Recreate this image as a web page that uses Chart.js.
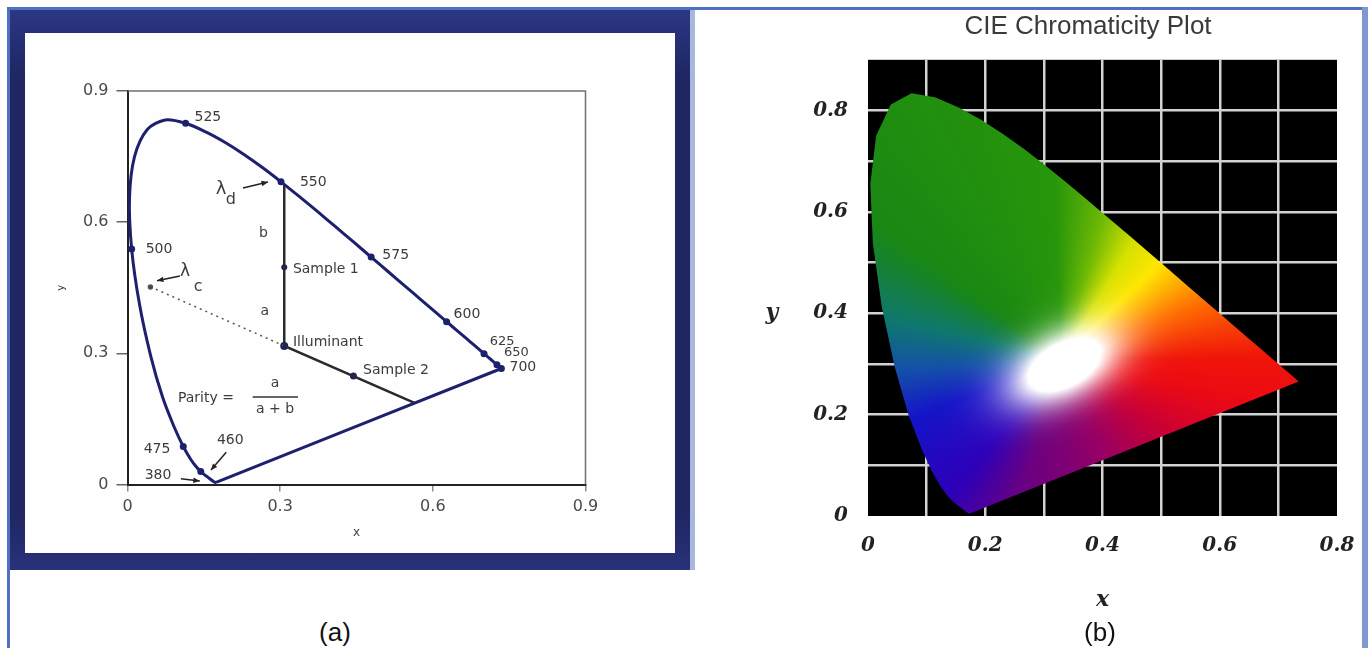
<!DOCTYPE html>
<html>
<head>
<meta charset="utf-8">
<script src="https://cdn.jsdelivr.net/npm/chart.js@4.4.0/dist/chart.umd.min.js"></script>
<style>
  body { margin: 0; width: 1368px; height: 648px; background: #fff; position: relative; overflow: hidden; font-family: "Liberation Sans", Arial, sans-serif; }
  .blk { position: absolute; }
  #edgeTop { left: 7px; top: 7px; width: 1361px; height: 3px; background: #4e71c4; }
  #edgeLeft { left: 7px; top: 7px; width: 3px; height: 641px; background: #4e71c4; }
  #edgeRight { left: 1362px; top: 7px; width: 6px; height: 641px; background: #7f99d0; }
  #navy { left: 10px; top: 10px; width: 680px; height: 560px; background: linear-gradient(#2b3783, #1f2662 12%, #1f2662 90%, #29327a); }
  #sep { left: 690px; top: 10px; width: 5px; height: 560px; background: #a7b8de; }
  #inner { left: 25px; top: 33px; width: 650px; height: 520px; background: #fefefe; }
  #chartA { position: absolute; left: 25px; top: 33px; }
  #chartB { position: absolute; left: 700px; top: 10px; }
  .cap { position: absolute; top: 617px; font-size: 26px; color: #111; width: 60px; text-align: center; }
</style>
</head>
<body>
<div class="blk" id="edgeTop"></div>
<div class="blk" id="edgeLeft"></div>
<div class="blk" id="edgeRight"></div>
<div class="blk" id="navy"></div>
<div class="blk" id="sep"></div>
<div class="blk" id="inner"></div>
<canvas id="chartA" width="650" height="520"></canvas>
<canvas id="chartB" width="662" height="638"></canvas>
<div class="cap" style="left:305px">(a)</div>
<div class="cap" style="left:1070px">(b)</div>
<script>
// CIE 1931 spectral locus, 5 nm steps
const wavelengths = [380,385,390,395,400,405,410,415,420,425,430,435,440,445,450,455,460,465,470,475,480,485,490,495,500,505,510,515,520,525,530,535,540,545,550,555,560,565,570,575,580,585,590,595,600,605,610,615,620,625,630,635,640,645,650,655,660,665,670,675,680,685,690,695,700];
const locusX = [0.1741,0.1740,0.1738,0.1736,0.1733,0.1730,0.1726,0.1721,0.1714,0.1703,0.1689,0.1669,0.1644,0.1611,0.1566,0.1510,0.1440,0.1355,0.1241,0.1096,0.0913,0.0687,0.0454,0.0235,0.0082,0.0039,0.0139,0.0389,0.0743,0.1142,0.1547,0.1929,0.2296,0.2658,0.3016,0.3373,0.3731,0.4087,0.4441,0.4788,0.5125,0.5448,0.5752,0.6029,0.6270,0.6482,0.6658,0.6801,0.6915,0.7006,0.7079,0.7140,0.7190,0.7230,0.7260,0.7283,0.7300,0.7311,0.7320,0.7327,0.7334,0.7340,0.7344,0.7346,0.7347];
const locusY = [0.0050,0.0050,0.0049,0.0049,0.0048,0.0048,0.0048,0.0048,0.0051,0.0058,0.0069,0.0086,0.0109,0.0138,0.0177,0.0227,0.0297,0.0399,0.0578,0.0868,0.1327,0.2007,0.2950,0.4127,0.5384,0.6548,0.7502,0.8120,0.8338,0.8262,0.8059,0.7816,0.7543,0.7243,0.6923,0.6589,0.6245,0.5896,0.5547,0.5202,0.4866,0.4544,0.4242,0.3965,0.3725,0.3514,0.3340,0.3197,0.3083,0.2993,0.2920,0.2859,0.2809,0.2770,0.2740,0.2717,0.2700,0.2689,0.2680,0.2673,0.2666,0.2660,0.2656,0.2654,0.2653];
const markedWavelengths = [460, 475, 500, 525, 550, 575, 600, 625, 650, 700];

// construction points of panel (a)
const illuminant = { x: 0.308, y: 0.317 };
const sample1 = { x: 0.308, y: 0.497 };
const sample2 = { x: 0.444, y: 0.248 };
const dominantPoint = { x: 0.308, y: 0.687 };
const purpleHit = { x: 0.565, y: 0.186 };
const complementEnd = { x: 0.045, y: 0.452 };

const locusPts = wavelengths.map((w, i) => ({ x: locusX[i], y: locusY[i] }));
const closedLocus = [...locusPts, locusPts[0]];

const NAVY = '#1d206c';
const sans = '"DejaVu Sans", sans-serif';

// text placed in data units on panel (a)
const notesA = [
  { text: '525', x: 0.158, y: 0.839 },
  { text: '550', x: 0.365, y: 0.690 },
  { text: '575', x: 0.527, y: 0.523 },
  { text: '600', x: 0.667, y: 0.390 },
  { text: '625', x: 0.736, y: 0.326, size: 13 },
  { text: '650', x: 0.764, y: 0.301, size: 13 },
  { text: '700', x: 0.777, y: 0.267 },
  { text: '500', x: 0.062, y: 0.537 },
  { text: '475', x: 0.058, y: 0.081 },
  { text: '460', x: 0.202, y: 0.102 },
  { text: '380', x: 0.060, y: 0.022 },
  { text: 'b', x: 0.267, y: 0.574 },
  { text: 'a', x: 0.270, y: 0.395 },
  { text: 'Sample 1', x: 0.325, y: 0.491, align: 'left' },
  { text: 'Illuminant', x: 0.325, y: 0.326, align: 'left' },
  { text: 'Sample 2', x: 0.463, y: 0.262, align: 'left' },
  { text: 'Parity =', x: 0.099, y: 0.198, align: 'left' },
  { text: 'a', x: 0.290, y: 0.232 },
  { text: 'a + b', x: 0.290, y: 0.172 },
  { text: 'λ', x: 0.184, y: 0.676, size: 18 },
  { text: 'd', x: 0.203, y: 0.652, size: 16 },
  { text: 'λ', x: 0.113, y: 0.488, size: 17 },
  { text: 'c', x: 0.139, y: 0.452, size: 16 }
];
const arrowsA = [
  [0.227, 0.678, 0.276, 0.692],
  [0.103, 0.477, 0.058, 0.466],
  [0.194, 0.074, 0.164, 0.033],
  [0.105, 0.013, 0.142, 0.008]
];

const notesPlugin = {
  id: 'notesA',
  afterDatasetsDraw(chart) {
    const { ctx, scales: { x: xs, y: ys }, chartArea: a } = chart;
    ctx.save();
    // fraction bar of the purity formula
    ctx.strokeStyle = '#333'; ctx.lineWidth = 1.5;
    ctx.beginPath();
    ctx.moveTo(xs.getPixelForValue(0.246), ys.getPixelForValue(0.200));
    ctx.lineTo(xs.getPixelForValue(0.335), ys.getPixelForValue(0.200));
    ctx.stroke();
    ctx.textBaseline = 'middle';
    ctx.fillStyle = '#3c3c3c';
    notesA.forEach(n => {
      ctx.font = (n.size || 14) + 'px ' + sans;
      ctx.textAlign = n.align || 'center';
      ctx.fillText(n.text, xs.getPixelForValue(n.x), ys.getPixelForValue(n.y));
    });
    ctx.strokeStyle = '#222'; ctx.fillStyle = '#222'; ctx.lineWidth = 1.5;
    arrowsA.forEach(([x1, y1, x2, y2]) => {
      const p1 = [xs.getPixelForValue(x1), ys.getPixelForValue(y1)];
      const p2 = [xs.getPixelForValue(x2), ys.getPixelForValue(y2)];
      const ang = Math.atan2(p2[1] - p1[1], p2[0] - p1[0]);
      ctx.beginPath(); ctx.moveTo(p1[0], p1[1]); ctx.lineTo(p2[0], p2[1]); ctx.stroke();
      ctx.beginPath();
      ctx.moveTo(p2[0], p2[1]);
      ctx.lineTo(p2[0] - 7 * Math.cos(ang - 0.4), p2[1] - 7 * Math.sin(ang - 0.4));
      ctx.lineTo(p2[0] - 7 * Math.cos(ang + 0.4), p2[1] - 7 * Math.sin(ang + 0.4));
      ctx.closePath(); ctx.fill();
    });
    // top and right frame of the plot box
    ctx.strokeStyle = '#707070'; ctx.lineWidth = 1.5;
    ctx.beginPath();
    ctx.moveTo(a.left, a.top); ctx.lineTo(a.right, a.top); ctx.lineTo(a.right, a.bottom);
    ctx.stroke();
    ctx.restore();
  }
};

const tickFmt = v => (v === 0 ? '0' : v.toFixed(1));

new Chart(document.getElementById('chartA'), {
  type: 'scatter',
  data: {
    datasets: [
      { data: closedLocus, showLine: true, borderColor: NAVY, borderWidth: 3, pointRadius: 0, tension: 0.3 },
      { data: markedWavelengths.map(w => locusPts[wavelengths.indexOf(w)]), pointRadius: 3.5, backgroundColor: NAVY, borderWidth: 0 },
      { data: [dominantPoint, illuminant, purpleHit], showLine: true, borderColor: '#2a2a2a', borderWidth: 2.5, pointRadius: 0 },
      { data: [complementEnd, illuminant], showLine: true, borderColor: '#555', borderWidth: 1.5, borderDash: [2, 4], pointRadius: [2, 0], backgroundColor: '#444' },
      { data: [sample1, illuminant, sample2], pointRadius: [3, 4, 3.5], backgroundColor: NAVY, borderWidth: 0 }
    ]
  },
  options: {
    responsive: false,
    animation: false,
    events: [],
    layout: { padding: { left: 0, right: 89.5, top: 58, bottom: 12.5 } },
    plugins: { legend: { display: false }, tooltip: { enabled: false } },
    scales: {
      x: {
        type: 'linear', min: 0, max: 0.9,
        afterFit(s) { s.height = 56; },
        ticks: { stepSize: 0.3, padding: 6, color: '#4a4a4a', font: { family: sans, size: 16 }, callback: tickFmt, maxRotation: 0 },
        grid: { drawOnChartArea: false, tickLength: 7, color: '#8a8a8a', lineWidth: 1.5 },
        border: { color: '#222', width: 2 },
        title: { display: true, text: 'x', color: '#444', font: { family: sans, size: 12 }, padding: 0 }
      },
      y: {
        type: 'linear', min: 0, max: 0.9,
        afterFit(s) { s.width = 102.5; },
        ticks: { stepSize: 0.3, padding: 8, color: '#4a4a4a', font: { family: sans, size: 16 }, callback: tickFmt },
        grid: { drawOnChartArea: false, tickLength: 11, color: '#666', lineWidth: 1.5 },
        border: { color: '#222', width: 2 },
        title: { display: true, text: 'y', color: '#333', font: { family: sans, size: 10 }, padding: { top: 30, bottom: 0 } }
      }
    }
  },
  plugins: [notesPlugin]
});

// panel (b): colour shading around the white point
const hueStops = [
  [0, [240, 20, 10]], [25, [255, 110, 0]], [48, [255, 230, 0]], [62, [215, 225, 0]], [76, [110, 185, 5]],
  [92, [40, 150, 10]], [140, [25, 135, 20]], [165, [15, 120, 110]], [185, [20, 80, 170]],
  [205, [20, 20, 200]], [235, [45, 0, 185]], [255, [105, 0, 130]], [290, [150, 0, 100]],
  [320, [200, 0, 55]], [345, [235, 10, 20]], [360, [240, 20, 10]]
];
function chromaColor(x, y) {
  let th = Math.atan2(y - 0.31, x - 0.33) * 180 / Math.PI;
  if (th < 0) th += 360;
  let k = 1;
  while (k < hueStops.length - 1 && hueStops[k][0] < th) k++;
  const [t0, c0] = hueStops[k - 1], [t1, c1] = hueStops[k];
  const f = (th - t0) / (t1 - t0);
  const dx = x - 0.335, dy = y - 0.298;
  const u = dx * 0.82 + dy * 0.57, v = -dx * 0.57 + dy * 0.82;
  const d2 = (u / 0.085) ** 2 + (v / 0.05) ** 2;
  const wv = Math.min(1, 1.6 * Math.exp(-0.7 * d2));
  return c0.map((c, i) => {
    const base = c + (c1[i] - c) * f;
    return base + (255 - base) * wv;
  });
}

const gamutPlugin = {
  id: 'gamut',
  beforeDraw(chart) {
    const { ctx, chartArea: a } = chart;
    ctx.save();
    ctx.fillStyle = '#000';
    ctx.fillRect(a.left, a.top, a.width, a.height);
    ctx.restore();
  },
  beforeDatasetsDraw(chart) {
    const { ctx, chartArea: a, scales: { x: xs, y: ys } } = chart;
    const pts = chart.getDatasetMeta(0).data;
    const w = Math.ceil(a.width), h = Math.ceil(a.height);
    const off = document.createElement('canvas');
    off.width = w; off.height = h;
    const octx = off.getContext('2d');
    const img = octx.createImageData(w, h);
    for (let j = 0; j < h; j++) {
      const cy = ys.getValueForPixel(a.top + j + 0.5);
      for (let i = 0; i < w; i++) {
        const cx = xs.getValueForPixel(a.left + i + 0.5);
        const c = chromaColor(cx, cy);
        const k = (j * w + i) * 4;
        img.data[k] = c[0]; img.data[k + 1] = c[1]; img.data[k + 2] = c[2]; img.data[k + 3] = 255;
      }
    }
    octx.putImageData(img, 0, 0);
    ctx.save();
    ctx.beginPath();
    pts.forEach((p, i) => (i ? ctx.lineTo(p.x, p.y) : ctx.moveTo(p.x, p.y)));
    ctx.closePath();
    ctx.clip();
    ctx.drawImage(off, a.left, a.top);
    ctx.restore();
  },
  afterDraw(chart) {
    const { ctx, chartArea: a, scales: { y: ys } } = chart;
    ctx.save();
    ctx.fillStyle = '#222';
    ctx.font = 'italic bold 22px "DejaVu Serif", serif';
    ctx.textAlign = 'center';
    ctx.textBaseline = 'middle';
    ctx.fillText('y', a.left - 96, ys.getPixelForValue(0.4));
    ctx.restore();
  }
};

const serifTick = { family: '"DejaVu Serif", serif', size: 20, style: 'italic', weight: 'bold' };
const evenLabel = v => (Math.round(v * 10) % 2 === 0 ? tickFmt(v) : '');
const innerGrid = max => c => (c.tick && (c.tick.value <= 0.0001 || c.tick.value >= max - 0.0001) ? 'rgba(0,0,0,0)' : '#d2d2d2');

new Chart(document.getElementById('chartB'), {
  type: 'scatter',
  data: {
    datasets: [
      { data: closedLocus, showLine: true, borderWidth: 0, borderColor: 'rgba(0,0,0,0)', pointRadius: 0 }
    ]
  },
  options: {
    responsive: false,
    animation: false,
    events: [],
    layout: { padding: { left: 96, right: 25, top: 0, bottom: 32 } },
    plugins: {
      legend: { display: false },
      tooltip: { enabled: false },
      title: {
        display: true, fullSize: false,
        text: 'CIE Chromaticity Plot    ',
        color: '#3a3a3a', font: { family: '"Liberation Sans", Arial, sans-serif', size: 26, weight: 'normal' },
        padding: { top: 1, bottom: 17.6 }
      }
    },
    scales: {
      x: {
        type: 'linear', min: 0, max: 0.8,
        afterFit(s) { s.height = 100; },
        ticks: { stepSize: 0.1, autoSkip: false, maxRotation: 0, padding: 0, color: '#222', font: serifTick, callback: evenLabel },
        grid: { color: innerGrid(0.8), lineWidth: 2.5, drawTicks: true, tickLength: 18, tickColor: 'rgba(0,0,0,0)' },
        border: { display: false },
        title: { display: true, text: 'x', color: '#222', font: { family: '"DejaVu Serif", serif', size: 22, style: 'italic', weight: 'bold' }, padding: { top: 0, bottom: 3 } }
      },
      y: {
        type: 'linear', min: 0, max: 0.9,
        afterFit(s) { s.width = 72; },
        ticks: { stepSize: 0.1, autoSkip: false, padding: 0, color: '#222', font: serifTick, callback: evenLabel },
        grid: { color: innerGrid(0.9), lineWidth: 2.5, drawTicks: true, tickLength: 20, tickColor: 'rgba(0,0,0,0)' },
        border: { display: false }
      }
    }
  },
  plugins: [gamutPlugin]
});
</script>
</body>
</html>
